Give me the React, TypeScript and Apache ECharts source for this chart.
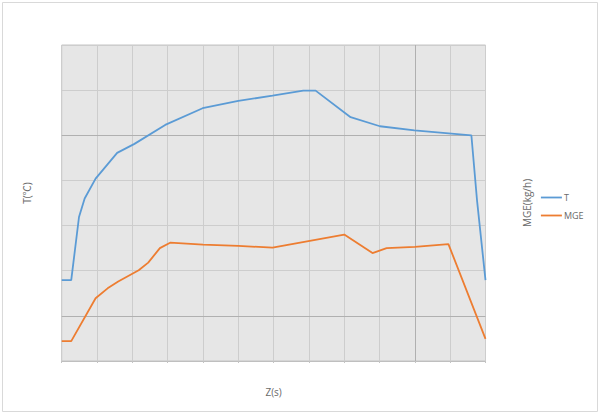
import React, { useEffect, useRef } from "react";
import * as echarts from "echarts";

// Temperature series (Z in grid steps, T in °C)
const tZ = [0, 0.27, 0.49, 0.65, 0.96, 1.57, 2.06, 2.93, 3.99, 5.0, 5.97, 6.84, 7.19, 8.18, 9.01, 9.99, 11.6, 11.76, 12];
const tValues = [179, 179, 319, 360, 404, 461, 481, 523, 560, 576, 588, 599, 599, 540, 520, 511, 500, 356, 179];

// MGE series (kg/h)
const mgeZ = [0, 0.27, 0.96, 1.3, 1.6, 2.18, 2.45, 2.78, 3.07, 4.0, 5.0, 5.97, 8.0, 8.8, 9.2, 10.0, 10.95, 12];
const mgeValues = [4.4, 4.4, 13.9, 16.1, 17.6, 20.1, 21.8, 25.0, 26.2, 25.8, 25.5, 25.1, 28.0, 23.9, 25.0, 25.3, 25.9, 4.9];

const seriesNames = ["T", "MGE"];
const axisNames = { x: "Z(s)", left: "T(℃)", right: "MGE(kg/h)" };
const darkGridX = [10];
const darkGridY = [100, 500];

const TEXT = "#6a6a6a";
const FONT = "'Open Sans', 'Liberation Sans', 'Noto Sans CJK SC', sans-serif";

export default function App() {
  const ref = useRef<HTMLDivElement>(null);
  useEffect(() => {
    if (!ref.current) return;
    const chart = echarts.init(ref.current, undefined, { renderer: "svg" });
    const tData = tZ.map((z, i) => [z, tValues[i]]);
    const mData = mgeZ.map((z, i) => [z, mgeValues[i]]);
    chart.setOption({
      animation: false,
      backgroundColor: "#ffffff",
      textStyle: { fontFamily: FONT },
      graphic: [
        {
          type: "rect",
          shape: { x: 2.5, y: 2.5, width: 595, height: 409 },
          style: { fill: "none", stroke: "#d9d9d9", lineWidth: 1 },
          silent: true,
        },
      ],
      grid: {
        left: 61.7,
        right: 114.5,
        top: 45,
        bottom: 53,
        show: true,
        backgroundColor: "#e6e6e6",
        borderColor: "#c4c4c4",
        borderWidth: 1,
      },
      legend: {
        orient: "vertical",
        left: 540,
        top: 193,
        padding: 0,
        itemWidth: 21,
        itemHeight: 10,
        itemGap: 9,
        itemStyle: { opacity: 0 },
        lineStyle: { width: 1.8 },
        textStyle: { color: TEXT, fontSize: 9, fontFamily: FONT, padding: [0, 0, 0, -3] },
        data: seriesNames,
      },
      xAxis: {
        type: "value",
        min: 0,
        max: 12,
        interval: 1,
        name: axisNames.x,
        nameLocation: "middle",
        nameGap: 26,
        nameTextStyle: { color: TEXT, fontSize: 10, fontFamily: FONT },
        axisLabel: { show: false },
        axisTick: { show: true, length: 2, lineStyle: { color: "#c4c4c4" } },
        axisLine: { show: true, lineStyle: { color: "#bfbfbf", width: 1 } },
        splitLine: { show: true, lineStyle: { color: "#cdcdcd", width: 1 } },
      },
      yAxis: [
        {
          type: "value",
          min: 0,
          max: 700,
          interval: 100,
          name: axisNames.left,
          nameLocation: "middle",
          nameRotate: 90,
          nameGap: 30,
          nameTextStyle: { color: TEXT, fontSize: 10, fontFamily: FONT, padding: [0, 0, 0, 20] },
          axisLabel: { show: false },
          axisTick: { show: false },
          axisLine: { show: false },
          splitLine: { show: true, lineStyle: { color: "#cdcdcd", width: 1 } },
        },
        {
          type: "value",
          min: 0,
          max: 70,
          interval: 10,
          position: "right",
          name: axisNames.right,
          nameLocation: "middle",
          nameRotate: 90,
          nameGap: 36,
          nameTextStyle: { color: TEXT, fontSize: 10, fontFamily: FONT },
          axisLabel: { show: false },
          axisTick: { show: false },
          axisLine: { show: false },
          splitLine: { show: false },
        },
      ],
      series: [
        {
          name: seriesNames[0],
          type: "line",
          yAxisIndex: 0,
          data: tData,
          showSymbol: false,
          symbol: "none",
          lineStyle: { color: "#5b9bd5", width: 1.8 },
          itemStyle: { color: "#5b9bd5" },
          z: 3,
          markLine: {
            silent: true,
            symbol: "none",
            label: { show: false },
            lineStyle: { color: "#b0b0b0", width: 1, type: "solid" },
            data: [
              ...darkGridX.map((x) => ({ xAxis: x })),
              ...darkGridY.map((y) => ({ yAxis: y })),
            ],
            z: 1,
          },
        },
        {
          name: seriesNames[1],
          type: "line",
          yAxisIndex: 1,
          data: mData,
          showSymbol: false,
          symbol: "none",
          lineStyle: { color: "#ed7d31", width: 1.8 },
          itemStyle: { color: "#ed7d31" },
          z: 3,
        },
      ],
    });
    return () => chart.dispose();
  }, []);
  return (
    <div
      ref={ref}
      style={{ position: "fixed", left: 0, top: 0, width: 600, height: 414 }}
    />
  );
}
